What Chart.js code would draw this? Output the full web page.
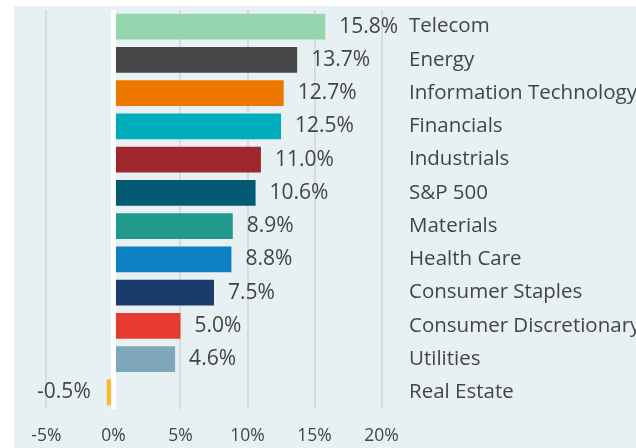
<!DOCTYPE html>
<html>
<head>
<meta charset="utf-8">
<script src="https://cdn.jsdelivr.net/npm/chart.js@4"></script>
<style>
html,body{margin:0;padding:0;background:#fff;}
#wrap{width:636px;height:448px;position:relative;}
</style>
</head>
<body>
<div id="wrap"><canvas id="c" width="636" height="448"></canvas></div>
<script>
const categories = ["Telecom","Energy","Information Technology","Financials","Industrials","S&P 500","Materials","Health Care","Consumer Staples","Consumer Discretionary","Utilities","Real Estate"];
const returns = [15.8,13.7,12.7,12.5,11.0,10.6,8.9,8.8,7.5,5.0,4.6,-0.5];
const barColors = ["#94d6ae","#474747","#ee7700","#00adbb","#a0262e","#035a72","#21998a","#0c80c0","#1a3c6d","#e63b2f","#7fa7ba","#fcb826"];
const xTicks = [-5,0,5,10,15,20];

const FONT = "'Open Sans'";
const TXT = "#444444";

const bgPlugin = {
  id: 'bg',
  beforeDraw(chart) {
    const ctx = chart.ctx;
    ctx.save();
    ctx.fillStyle = '#e7f0f3';
    ctx.fillRect(14, 6, chart.width - 14, chart.height - 6);
    ctx.restore();
  }
};

const overlayPlugin = {
  id: 'overlay',
  afterDatasetsDraw(chart) {
    const ctx = chart.ctx;
    const xs = chart.scales.x;
    const area = chart.chartArea;
    const x0 = xs.getPixelForValue(0);
    ctx.save();
    ctx.strokeStyle = '#ffffff';
    ctx.lineWidth = 5;
    ctx.beginPath();
    ctx.moveTo(x0, area.top);
    ctx.lineTo(x0, area.bottom);
    ctx.stroke();
    const meta = chart.getDatasetMeta(0);
    ctx.font = "21px " + FONT;
    ctx.fillStyle = TXT;
    ctx.textBaseline = 'middle';
    meta.data.forEach((bar, i) => {
      const v = returns[i];
      const label = v.toFixed(1) + '%';
      if (v >= 0) {
        ctx.textAlign = 'left';
        ctx.fillText(label, bar.x + 14, bar.y);
      } else {
        ctx.textAlign = 'right';
        ctx.fillText(label, bar.x - 16, bar.y);
      }
    });
    ctx.restore();
  }
};

new Chart(document.getElementById('c'), {
  type: 'bar',
  data: {
    labels: categories,
    datasets: [{
      data: returns,
      backgroundColor: barColors,
      borderWidth: 0,
      categoryPercentage: 1,
      barPercentage: 0.78
    }]
  },
  options: {
    indexAxis: 'y',
    responsive: false,
    animation: false,
    layout: { padding: { left: 33, top: 10, right: 0, bottom: 0 } },
    plugins: { legend: { display: false }, tooltip: { enabled: false } },
    scales: {
      x: {
        type: 'linear',
        min: -6,
        max: 21,
        afterBuildTicks(s) {
          s.ticks = xTicks.map(v => ({ value: v }));
        },
        afterFit(s) { s.height = 39; s.paddingLeft = 0; s.paddingRight = 0; },
        border: { display: false },
        grid: { color: '#d8dcde', lineWidth: 2, drawTicks: false },
        ticks: {
          padding: 17,
          color: TXT,
          font: { family: FONT, size: 17.5 },
          callback: v => v + '%'
        }
      },
      y: {
        position: 'right',
        afterFit(s) { s.width = 241; s.paddingTop = 0; s.paddingBottom = 0; },
        border: { display: false },
        grid: { display: false, drawTicks: false },
        ticks: {
          padding: 14,
          color: TXT,
          font: { family: FONT, size: 20.5 },
          autoSkip: false
        }
      }
    }
  },
  plugins: [bgPlugin, overlayPlugin]
});
</script>
</body>
</html>
